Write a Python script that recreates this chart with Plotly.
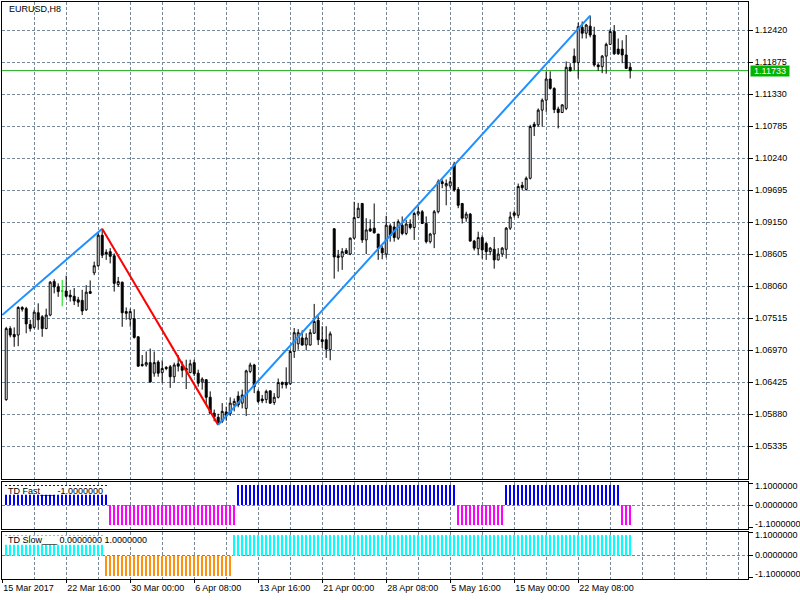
import plotly.graph_objects as go

# ---------------- data ----------------
bar_idx = list(range(157))

open_ = [1.0613, 1.0734, 1.0724, 1.0723, 1.0770, 1.0768, 1.0741, 1.0736, 1.0761, 1.0754,
         1.0734, 1.0757, 1.0814, 1.0805, 1.0798, 1.0798, 1.0791, 1.0789, 1.0783, 1.0782,
         1.0766, 1.0797, 1.0829, 1.0841, 1.0893, 1.0864, 1.0865, 1.0858, 1.0809, 1.0813,
         1.0763, 1.0750, 1.0751, 1.0720, 1.0673, 1.0672, 1.0676, 1.0658, 1.0677, 1.0659,
         1.0668, 1.0669, 1.0652, 1.0674, 1.0670, 1.0666, 1.0659, 1.0676, 1.0658, 1.0643,
         1.0647, 1.0617, 1.0590, 1.0583, 1.0576, 1.0592, 1.0589, 1.0604, 1.0619, 1.0607,
         1.0598, 1.0661, 1.0672, 1.0627, 1.0614, 1.0613, 1.0628, 1.0608, 1.0617, 1.0642,
         1.0642, 1.0640, 1.0695, 1.0708, 1.0718, 1.0706, 1.0706, 1.0726, 1.0748, 1.0715,
         1.0715, 1.0698, 1.0904, 1.0855, 1.0856, 1.0867, 1.0861, 1.0888, 1.0923, 1.0947,
         1.0885, 1.0904, 1.0905, 1.0895, 1.0871, 1.0861, 1.0909, 1.0907, 1.0888, 1.0910,
         1.0896, 1.0912, 1.0906, 1.0929, 1.0933, 1.0913, 1.0882, 1.0895, 1.0933, 1.0984,
         1.0977, 1.0977, 1.1014, 1.0971, 1.0947, 1.0922, 1.0929, 1.0883, 1.0870, 1.0889,
         1.0879, 1.0865, 1.0869, 1.0851, 1.0861, 1.0869, 1.0905, 1.0931, 1.0927, 1.0978,
         1.0971, 1.0990, 1.1082, 1.1081, 1.1106, 1.1123, 1.1159, 1.1143, 1.1108, 1.1102,
         1.1109, 1.1179, 1.1198, 1.1187, 1.1247, 1.1237, 1.1249, 1.1234, 1.1183, 1.1180,
         1.1198, 1.1218, 1.1240, 1.1210, 1.1210, 1.1200, 1.1179]
high = [1.0737, 1.0738, 1.0736, 1.0772, 1.0772, 1.0771, 1.0749, 1.0766, 1.0777, 1.0757,
        1.0768, 1.0815, 1.0818, 1.0811, 1.0817, 1.0824, 1.0800, 1.0803, 1.0788, 1.0800,
        1.0808, 1.0816, 1.0848, 1.0896, 1.0904, 1.0869, 1.0871, 1.0862, 1.0822, 1.0814,
        1.0770, 1.0768, 1.0767, 1.0721, 1.0689, 1.0695, 1.0700, 1.0695, 1.0680, 1.0680,
        1.0670, 1.0672, 1.0676, 1.0689, 1.0678, 1.0681, 1.0681, 1.0681, 1.0664, 1.0651,
        1.0648, 1.0627, 1.0596, 1.0589, 1.0607, 1.0601, 1.0617, 1.0615, 1.0627, 1.0630,
        1.0664, 1.0676, 1.0674, 1.0630, 1.0621, 1.0630, 1.0628, 1.0624, 1.0649, 1.0644,
        1.0668, 1.0698, 1.0735, 1.0733, 1.0731, 1.0726, 1.0733, 1.0776, 1.0755, 1.0738,
        1.0738, 1.0729, 1.0905, 1.0868, 1.0871, 1.0871, 1.0889, 1.0950, 1.0948, 1.0948,
        1.0922, 1.0920, 1.0947, 1.0895, 1.0875, 1.0926, 1.0913, 1.0916, 1.0920, 1.0925,
        1.0919, 1.0920, 1.0933, 1.0942, 1.0936, 1.0925, 1.0897, 1.0936, 1.0988, 1.0988,
        1.0988, 1.0992, 1.1018, 1.0975, 1.0948, 1.0933, 1.0931, 1.0885, 1.0899, 1.0893,
        1.0882, 1.0873, 1.0890, 1.0871, 1.0873, 1.0907, 1.0933, 1.0935, 1.0981, 1.0984,
        1.0993, 1.1081, 1.1086, 1.1109, 1.1126, 1.1172, 1.1172, 1.1145, 1.1112, 1.1116,
        1.1189, 1.1186, 1.1211, 1.1255, 1.1257, 1.1253, 1.1267, 1.1248, 1.1186, 1.1200,
        1.1221, 1.1244, 1.1251, 1.1228, 1.1225, 1.1234, 1.1187]
low = [1.0611, 1.0719, 1.0703, 1.0704, 1.0763, 1.0726, 1.0729, 1.0734, 1.0732, 1.0720,
       1.0733, 1.0755, 1.0794, 1.0788, 1.0772, 1.0787, 1.0780, 1.0774, 1.0771, 1.0757,
       1.0764, 1.0793, 1.0825, 1.0839, 1.0854, 1.0851, 1.0845, 1.0797, 1.0805, 1.0737,
       1.0749, 1.0737, 1.0717, 1.0669, 1.0669, 1.0669, 1.0642, 1.0652, 1.0652, 1.0641,
       1.0663, 1.0633, 1.0642, 1.0661, 1.0651, 1.0631, 1.0658, 1.0653, 1.0635, 1.0630,
       1.0604, 1.0589, 1.0576, 1.0570, 1.0573, 1.0577, 1.0585, 1.0593, 1.0600, 1.0598,
       1.0585, 1.0658, 1.0624, 1.0607, 1.0607, 1.0607, 1.0606, 1.0604, 1.0615, 1.0632,
       1.0632, 1.0638, 1.0684, 1.0698, 1.0705, 1.0697, 1.0705, 1.0725, 1.0706, 1.0701,
       1.0684, 1.0680, 1.0819, 1.0831, 1.0834, 1.0861, 1.0859, 1.0886, 1.0922, 1.0880,
       1.0861, 1.0899, 1.0896, 1.0851, 1.0852, 1.0855, 1.0882, 1.0882, 1.0885, 1.0893,
       1.0893, 1.0903, 1.0885, 1.0925, 1.0912, 1.0879, 1.0879, 1.0871, 1.0930, 1.0973,
       1.0944, 1.0973, 1.0967, 1.0939, 1.0913, 1.0916, 1.0882, 1.0867, 1.0859, 1.0853,
       1.0851, 1.0859, 1.0836, 1.0850, 1.0856, 1.0853, 1.0902, 1.0923, 1.0922, 1.0970,
       1.0969, 1.0988, 1.1062, 1.1078, 1.1078, 1.1103, 1.1141, 1.1101, 1.1075, 1.1101,
       1.1106, 1.1172, 1.1174, 1.1160, 1.1228, 1.1228, 1.1230, 1.1180, 1.1173, 1.1169,
       1.1168, 1.1217, 1.1200, 1.1200, 1.1186, 1.1177, 1.1160]
close = [1.0734, 1.0723, 1.0720, 1.0770, 1.0767, 1.0742, 1.0734, 1.0762, 1.0749, 1.0734,
         1.0757, 1.0813, 1.0805, 1.0797, 1.0798, 1.0789, 1.0788, 1.0781, 1.0779, 1.0764,
         1.0796, 1.0794, 1.0841, 1.0893, 1.0859, 1.0861, 1.0857, 1.0811, 1.0814, 1.0761,
         1.0760, 1.0763, 1.0719, 1.0670, 1.0671, 1.0676, 1.0643, 1.0676, 1.0658, 1.0666,
         1.0666, 1.0652, 1.0672, 1.0670, 1.0663, 1.0663, 1.0674, 1.0657, 1.0641, 1.0648,
         1.0617, 1.0590, 1.0584, 1.0574, 1.0593, 1.0585, 1.0607, 1.0610, 1.0604, 1.0621,
         1.0662, 1.0672, 1.0635, 1.0610, 1.0611, 1.0627, 1.0607, 1.0617, 1.0642, 1.0639,
         1.0638, 1.0695, 1.0727, 1.0727, 1.0706, 1.0718, 1.0727, 1.0746, 1.0715, 1.0712,
         1.0699, 1.0725, 1.0856, 1.0858, 1.0865, 1.0862, 1.0888, 1.0923, 1.0939, 1.0885,
         1.0902, 1.0900, 1.0897, 1.0871, 1.0863, 1.0910, 1.0892, 1.0889, 1.0916, 1.0896,
         1.0912, 1.0906, 1.0930, 1.0933, 1.0913, 1.0882, 1.0895, 1.0933, 1.0984, 1.0981,
         1.0981, 1.0984, 1.0970, 1.0944, 1.0922, 1.0929, 1.0883, 1.0871, 1.0889, 1.0868,
         1.0865, 1.0871, 1.0851, 1.0861, 1.0871, 1.0905, 1.0924, 1.0927, 1.0976, 1.0974,
         1.0990, 1.1078, 1.1078, 1.1106, 1.1123, 1.1159, 1.1143, 1.1107, 1.1102, 1.1115,
         1.1179, 1.1173, 1.1187, 1.1248, 1.1237, 1.1251, 1.1234, 1.1183, 1.1180, 1.1198,
         1.1218, 1.1240, 1.1202, 1.1202, 1.1200, 1.1177, 1.11733]

# ZigZag pivots (bar index, price); first pivot lies just left of the visible area
zz_x = [-1, 24, 53, 146]
zz_y = [1.0757, 1.0904, 1.0570, 1.1267]

# TD Fast / TD Slow histograms (+1 / -1)
td_fast = [1] * 26 + [-1] * 32 + [1] * 55 + [-1] * 12 + [1] * 29 + [-1] * 3
td_slow = [1] * 25 + [-1] * 32 + [1] * 100
td_slow_buffers_last = [0.0, 1.0]
td_levels = [1.1, 0.0, -1.1]

price_ticks = [1.05335, 1.05880, 1.06425, 1.06970, 1.07515, 1.08060, 1.08605,
               1.09150, 1.09695, 1.10240, 1.10785, 1.11330, 1.11875, 1.12420]

tick_idx = [-1, 15, 31, 47, 63, 79, 95, 111, 127, 143]
tick_text = ["15 Mar 2017", "22 Mar 16:00", "30 Mar 00:00", "6 Apr 08:00", "13 Apr 16:00",
             "21 Apr 00:00", "28 Apr 08:00", "5 May 16:00", "15 May 00:00", "22 May 08:00"]
grid_idx = list(range(-1, 186, 8))

symbol_label = "EURUSD,H8"

# ---------------- styles ----------------
FONT = "Liberation Sans, Arial, sans-serif"
GRID = "#778899"
DASH = "3px,2px"
UP_ZZ = "#1E90FF"
DN_ZZ = "#FF0000"
BID = "#1DAA1D"

fig = go.Figure()

normal = [i for i in bar_idx if open_[i] != close[i]]
doji = [i for i in bar_idx if open_[i] == close[i]]

fig.add_trace(go.Candlestick(
    x=normal, open=[open_[i] for i in normal], high=[high[i] for i in normal],
    low=[low[i] for i in normal], close=[close[i] for i in normal],
    increasing=dict(line=dict(color="black", width=1), fillcolor="white"),
    decreasing=dict(line=dict(color="black", width=1), fillcolor="black"),
    xaxis="x", yaxis="y", showlegend=False, hoverinfo="skip"))
if doji:
    fig.add_trace(go.Candlestick(
        x=doji, open=[open_[i] for i in doji], high=[high[i] for i in doji],
        low=[low[i] for i in doji], close=[close[i] for i in doji],
        increasing=dict(line=dict(color="#00E000", width=1), fillcolor="#00E000"),
        decreasing=dict(line=dict(color="#00E000", width=1), fillcolor="#00E000"),
        xaxis="x", yaxis="y", showlegend=False, hoverinfo="skip"))

for k in range(len(zz_x) - 1):
    col = UP_ZZ if zz_y[k + 1] > zz_y[k] else DN_ZZ
    fig.add_trace(go.Scatter(x=zz_x[k:k + 2], y=zz_y[k:k + 2], mode="lines",
                             line=dict(color=col, width=2), xaxis="x", yaxis="y",
                             showlegend=False, hoverinfo="skip"))

fig.add_trace(go.Bar(x=bar_idx, y=td_fast, width=0.5,
                     marker=dict(color=["#0000FF" if v > 0 else "#FF00FF" for v in td_fast],
                                 line=dict(width=0)),
                     xaxis="x2", yaxis="y2", showlegend=False, hoverinfo="skip"))
fig.add_trace(go.Bar(x=bar_idx, y=td_slow, width=0.5,
                     marker=dict(color=["#00FFFF" if v > 0 else "#FF9010" for v in td_slow],
                                 line=dict(width=0)),
                     xaxis="x3", yaxis="y3", showlegend=False, hoverinfo="skip"))

xcommon = dict(range=[-1.05, 185.45], showline=True, mirror=True, linecolor="black",
               linewidth=1, showgrid=False, zeroline=False, tickmode="array",
               tickvals=tick_idx, ticktext=tick_text, automargin=False, tickangle=0,
               minor=dict(tickvals=grid_idx, showgrid=True, gridcolor=GRID,
                          griddash=DASH, gridwidth=1, ticks=""))
ycommon = dict(side="right", showline=True, mirror=True, linecolor="black", linewidth=1,
               zeroline=False, ticks="outside", ticklen=4, tickcolor="black",
               automargin=False,
               tickfont=dict(family=FONT, size=9, color="black"))

fig.update_layout(
    width=800, height=600,
    margin=dict(l=2, r=52, t=2, b=21, autoexpand=False),
    paper_bgcolor="white", plot_bgcolor="white",
    font=dict(family=FONT, size=9, color="black"),
    showlegend=False, bargap=0,
    xaxis=dict(**xcommon, anchor="y", showticklabels=False, ticks="",
               rangeslider=dict(visible=False)),
    xaxis2=dict(**xcommon, anchor="y2", matches="x", showticklabels=False, ticks=""),
    xaxis3=dict(**xcommon, anchor="y3", matches="x", showticklabels=True,
                ticks="outside", ticklen=3, tickcolor="black",
                ticklabelposition="outside right",
                tickfont=dict(family=FONT, size=9, color="black")),
    yaxis=dict(**ycommon, domain=[0.1733, 1.0], anchor="x",
               range=[1.04778, 1.12902], tickmode="array", tickvals=price_ticks,
               tickformat=".5f", showgrid=True, gridcolor=GRID,
               griddash=DASH, gridwidth=1),
    yaxis2=dict(**ycommon, domain=[0.0875, 0.1681], anchor="x2", range=[-1.15, 1.15],
                tickmode="array", tickvals=td_levels, showticklabels=False,
                showgrid=False,
                minor=dict(tickvals=[0], showgrid=True, gridcolor=GRID, griddash=DASH,
                           ticks="")),
    yaxis3=dict(**ycommon, domain=[0.0, 0.0823], anchor="x3", range=[-1.15, 1.15],
                tickmode="array", tickvals=td_levels, showticklabels=False,
                showgrid=False,
                minor=dict(tickvals=[0], showgrid=True, gridcolor=GRID, griddash=DASH,
                           ticks="")),
)

last = close[-1]
fig.add_shape(type="line", xref="x domain", x0=0, x1=1, yref="y", y0=last, y1=last,
              line=dict(color=BID, width=1), layer="below")

# white label backgrounds of the indicator windows
fig.add_shape(type="rect", xref="paper", x0=0.004, x1=0.142, yref="y2", y0=0.52, y1=0.95,
              fillcolor="white", line=dict(width=0), layer="above")
fig.add_shape(type="rect", xref="paper", x0=0.004, x1=0.198, yref="y3", y0=0.51, y1=0.93,
              fillcolor="white", line=dict(width=0), layer="above")

txt_font = dict(family=FONT, size=9, color="black")
fig.add_annotation(text=symbol_label, xref="paper", yref="paper", x=0.0067, y=0.9887,
                   xanchor="left", yanchor="middle", showarrow=False, font=txt_font)
fig.add_annotation(text=f"TD Fast___ {td_fast[-1]:.7f}", xref="paper", yref="y2",
                   x=0.0054, y=0.72, xanchor="left", yanchor="middle", showarrow=False,
                   font=txt_font)
fig.add_annotation(text="TD Slow___ " + " ".join(f"{v:.7f}" for v in td_slow_buffers_last),
                   xref="paper", yref="y3", x=0.0054, y=0.72, xanchor="left",
                   yanchor="middle", showarrow=False, font=txt_font)

# level labels of the indicator windows (kept inside each window, as in the terminal)
label_pos = {1.1: 0.96, 0.0: 0.0, -1.1: -0.93}
for yref in ("y2", "y3"):
    for lv in td_levels:
        fig.add_annotation(text=f"{lv:.7f}", xref="paper", yref=yref, x=1.0064,
                           y=label_pos[lv], xanchor="left", yanchor="middle",
                           showarrow=False, font=txt_font)

fig.add_annotation(text=f"{last:.5f}", xref="paper", yref="y", x=1.0027, y=last,
                   xanchor="left", yanchor="middle", showarrow=False,
                   bgcolor="#00B400", borderpad=0, width=38, height=10,
                   font=dict(family=FONT, size=9, color="white"))

fig.write_html("out.html",
               config={"displayModeBar": False},
               post_script="document.body.style.margin='0px';"
                           "document.body.style.overflow='hidden';")
